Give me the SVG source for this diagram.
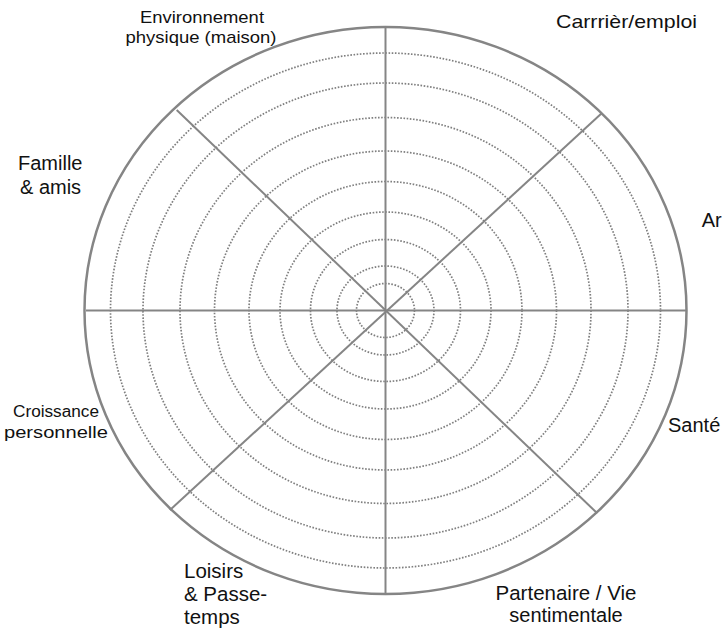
<svg xmlns="http://www.w3.org/2000/svg" width="724" height="631" viewBox="0 0 724 631">
<style>
.outer{fill:none;stroke:#858585;stroke-width:2.5}
.ring{fill:none;stroke:#7f7f7f;stroke-width:1.7;stroke-dasharray:1.6 1.6}
.spoke{stroke:#858585;stroke-width:2;fill:none}
.lbl{font-family:"Liberation Sans",Arial,Helvetica,sans-serif;fill:#111}
</style>
<rect width="724" height="631" fill="#fff"/>
<g id="wheel">
<ellipse class="outer" cx="385.5" cy="310.5" rx="301" ry="283.5"/>
<ellipse class="ring" cx="385.5" cy="310.5" rx="275" ry="257.5"/>
<ellipse class="ring" cx="385.5" cy="310.5" rx="242.5" ry="227.5"/>
<ellipse class="ring" cx="385.5" cy="310.5" rx="205.5" ry="193"/>
<ellipse class="ring" cx="385.5" cy="310.5" rx="171" ry="159.5"/>
<ellipse class="ring" cx="385.5" cy="310.5" rx="136.5" ry="129"/>
<ellipse class="ring" cx="385.5" cy="310.5" rx="105.5" ry="98.5"/>
<ellipse class="ring" cx="385.5" cy="310.5" rx="75" ry="71"/>
<ellipse class="ring" cx="385.5" cy="310.5" rx="48.5" ry="44.5"/>
<ellipse class="ring" cx="385.5" cy="310.5" rx="29" ry="27"/>
</g>
<g id="connectors">
<line class="spoke" x1="86" y1="310.5" x2="686" y2="310.5"/>
<line class="spoke" x1="385.5" y1="27" x2="385.5" y2="594"/>
<line class="spoke" x1="176.7" y1="110" x2="597.3" y2="513.3"/>
<line class="spoke" x1="601.7" y1="113.3" x2="170" y2="510"/>
</g>
<g id="environnement">
<text class="lbl" font-size="17" text-anchor="middle" x="202" y="23" textLength="124" lengthAdjust="spacingAndGlyphs">Environnement</text>
<text class="lbl" font-size="17" text-anchor="middle" x="201" y="43" textLength="151" lengthAdjust="spacingAndGlyphs">physique (maison)</text>
</g>
<g id="carriere">
<text class="lbl" font-size="19" x="556" y="28" textLength="141" lengthAdjust="spacingAndGlyphs">Carrrièr/emploi</text>
</g>
<g id="famille">
<text class="lbl" font-size="20" x="18" y="170">Famille</text>
<text class="lbl" font-size="20" x="20" y="194">&amp; amis</text>
</g>
<g id="argent">
<text class="lbl" font-size="20" x="701.7" y="227">Ar</text>
</g>
<g id="sante">
<text class="lbl" font-size="20" x="668" y="432">Santé</text>
</g>
<g id="croissance">
<text class="lbl" font-size="16" text-anchor="middle" x="56" y="417" textLength="86" lengthAdjust="spacingAndGlyphs">Croissance</text>
<text class="lbl" font-size="16" text-anchor="middle" x="56" y="438" textLength="104" lengthAdjust="spacingAndGlyphs">personnelle</text>
</g>
<g id="loisirs">
<text class="lbl" font-size="20.5" x="184" y="578">Loisirs</text>
<text class="lbl" font-size="20.5" x="184" y="601">&amp; Passe-</text>
<text class="lbl" font-size="20.5" x="184" y="624">temps</text>
</g>
<g id="partenaire">
<text class="lbl" font-size="20.5" text-anchor="middle" x="566" y="600">Partenaire / Vie</text>
<text class="lbl" font-size="20" text-anchor="middle" x="566" y="622">sentimentale</text>
</g>
</svg>
